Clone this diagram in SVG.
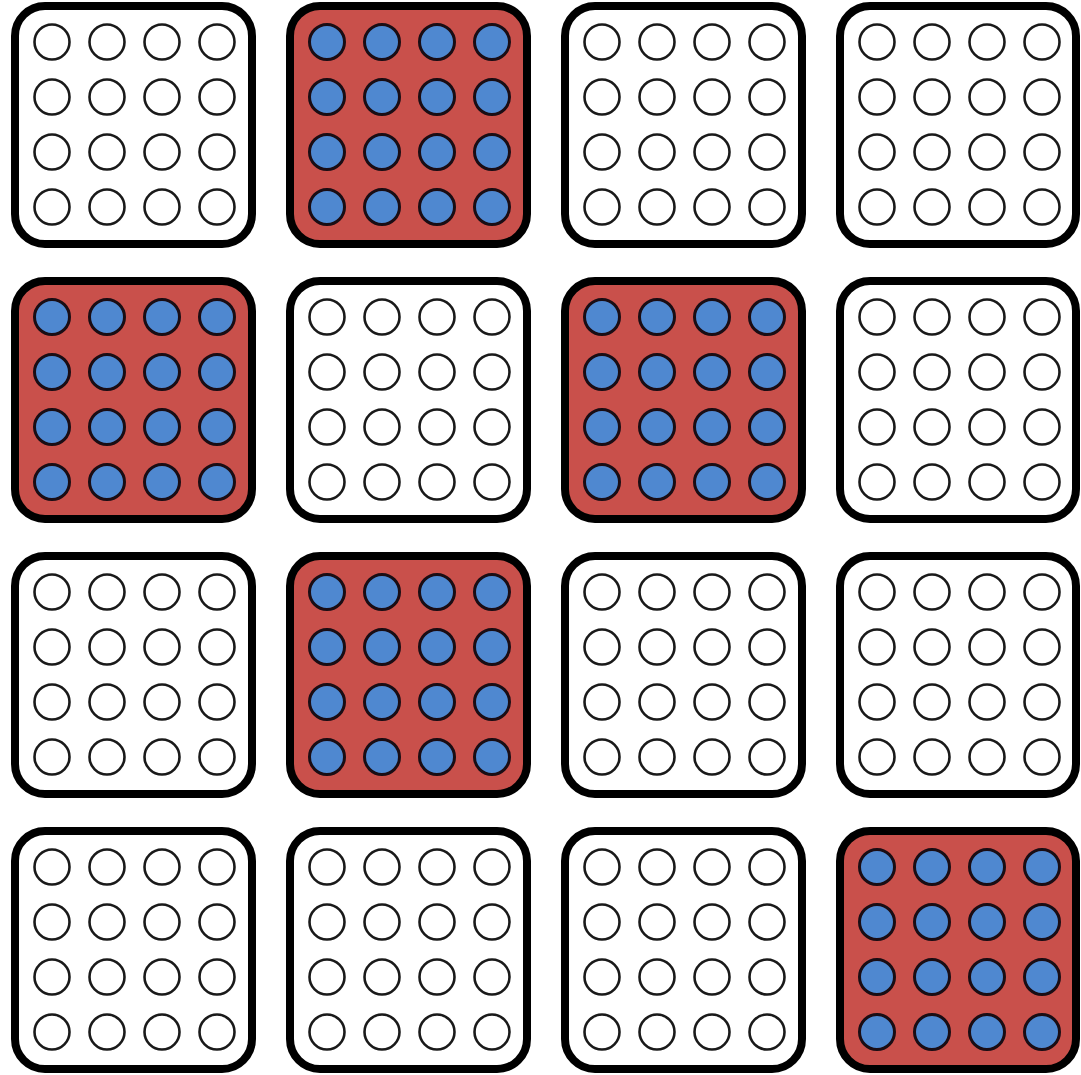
<svg xmlns="http://www.w3.org/2000/svg" xmlns:xlink="http://www.w3.org/1999/xlink" width="1081" height="1075" viewBox="0 0 1081 1075">
<style>
.tile rect{stroke:#000;stroke-width:8}
.w rect{fill:#fff}
.r rect{fill:#c9504b}
.w use{fill:#fff;stroke:#1a1a1a;stroke-width:2.6}
.r use{fill:#4f88d0;stroke:#1a0d14;stroke-width:3}
</style>
<defs>
<g id="dots">
<circle cx="0" cy="0" r="17.5"/><circle cx="55" cy="0" r="17.5"/><circle cx="110" cy="0" r="17.5"/><circle cx="165" cy="0" r="17.5"/>
<circle cx="0" cy="55" r="17.5"/><circle cx="55" cy="55" r="17.5"/><circle cx="110" cy="55" r="17.5"/><circle cx="165" cy="55" r="17.5"/>
<circle cx="0" cy="110" r="17.5"/><circle cx="55" cy="110" r="17.5"/><circle cx="110" cy="110" r="17.5"/><circle cx="165" cy="110" r="17.5"/>
<circle cx="0" cy="165" r="17.5"/><circle cx="55" cy="165" r="17.5"/><circle cx="110" cy="165" r="17.5"/><circle cx="165" cy="165" r="17.5"/>
</g>
</defs>
<rect width="1081" height="1075" fill="#fff"/>
<g id="tile-1-1" class="tile w"><rect x="15" y="6" width="237" height="238" rx="30"/><use href="#dots" x="52" y="42"/></g>
<g id="tile-1-2" class="tile r"><rect x="290" y="6" width="237" height="238" rx="30"/><use href="#dots" x="327" y="42"/></g>
<g id="tile-1-3" class="tile w"><rect x="565" y="6" width="237" height="238" rx="30"/><use href="#dots" x="602" y="42"/></g>
<g id="tile-1-4" class="tile w"><rect x="840" y="6" width="236" height="238" rx="30"/><use href="#dots" x="877" y="42"/></g>
<g id="tile-2-1" class="tile r"><rect x="15" y="281" width="237" height="238" rx="30"/><use href="#dots" x="52" y="317"/></g>
<g id="tile-2-2" class="tile w"><rect x="290" y="281" width="237" height="238" rx="30"/><use href="#dots" x="327" y="317"/></g>
<g id="tile-2-3" class="tile r"><rect x="565" y="281" width="237" height="238" rx="30"/><use href="#dots" x="602" y="317"/></g>
<g id="tile-2-4" class="tile w"><rect x="840" y="281" width="236" height="238" rx="30"/><use href="#dots" x="877" y="317"/></g>
<g id="tile-3-1" class="tile w"><rect x="15" y="556" width="237" height="238" rx="30"/><use href="#dots" x="52" y="592"/></g>
<g id="tile-3-2" class="tile r"><rect x="290" y="556" width="237" height="238" rx="30"/><use href="#dots" x="327" y="592"/></g>
<g id="tile-3-3" class="tile w"><rect x="565" y="556" width="237" height="238" rx="30"/><use href="#dots" x="602" y="592"/></g>
<g id="tile-3-4" class="tile w"><rect x="840" y="556" width="236" height="238" rx="30"/><use href="#dots" x="877" y="592"/></g>
<g id="tile-4-1" class="tile w"><rect x="15" y="831" width="237" height="238" rx="30"/><use href="#dots" x="52" y="867"/></g>
<g id="tile-4-2" class="tile w"><rect x="290" y="831" width="237" height="238" rx="30"/><use href="#dots" x="327" y="867"/></g>
<g id="tile-4-3" class="tile w"><rect x="565" y="831" width="237" height="238" rx="30"/><use href="#dots" x="602" y="867"/></g>
<g id="tile-4-4" class="tile r"><rect x="840" y="831" width="236" height="238" rx="30"/><use href="#dots" x="877" y="867"/></g>
<g id="connectors"/>
</svg>
